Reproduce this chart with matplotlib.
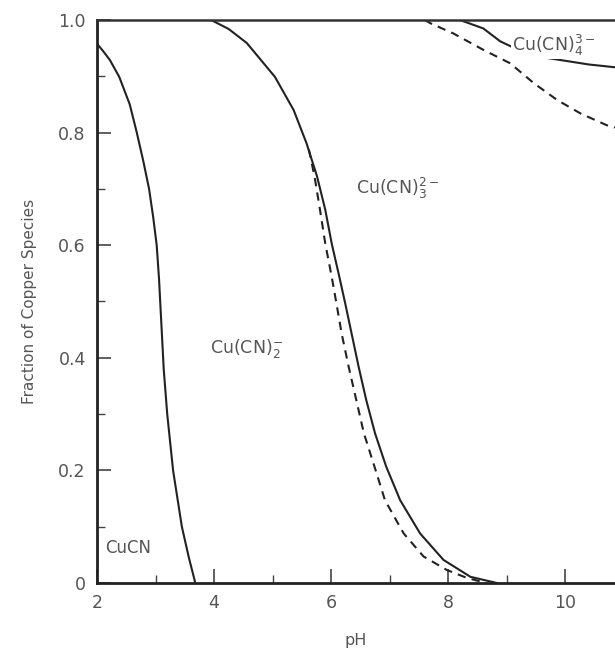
import matplotlib
matplotlib.use("Agg")
import matplotlib.pyplot as plt
from matplotlib.ticker import MultipleLocator, FixedLocator

# --- data ---
cucn_ph = [2.0, 2.11, 2.22, 2.38, 2.56, 2.68, 2.79, 2.89, 2.96, 3.02, 3.06, 3.10, 3.14, 3.20, 3.30, 3.45, 3.57, 3.68]
cucn_f = [0.958, 0.944, 0.929, 0.899, 0.85, 0.80, 0.75, 0.70, 0.65, 0.60, 0.54, 0.46, 0.38, 0.30, 0.20, 0.10, 0.045, 0.0]

cn2_ph = [3.95, 4.25, 4.56, 5.04, 5.36, 5.58, 5.76, 5.90, 6.01, 6.14, 6.24, 6.35, 6.47, 6.60, 6.75, 6.94, 7.18, 7.52, 7.92, 8.38, 8.83]
cn2_f = [1.0, 0.984, 0.959, 0.899, 0.84, 0.781, 0.722, 0.663, 0.603, 0.544, 0.497, 0.443, 0.384, 0.325, 0.266, 0.207, 0.147, 0.088, 0.041, 0.011, 0.0]

cn2d_ph = [5.62, 5.72, 5.81, 5.90, 6.01, 6.09, 6.18, 6.30, 6.43, 6.56, 6.74, 6.92, 7.24, 7.58, 7.98, 8.32, 8.65]
cn2d_f = [0.77, 0.72, 0.663, 0.603, 0.544, 0.497, 0.443, 0.384, 0.325, 0.266, 0.207, 0.147, 0.088, 0.047, 0.023, 0.009, 0.0]

cn3_ph = [8.2, 8.6, 8.89, 9.3, 9.6, 9.91, 10.4, 10.85]
cn3_f = [1.0, 0.985, 0.962, 0.942, 0.934, 0.929, 0.921, 0.916]

cn3d_ph = [7.6, 7.7, 8.09, 8.60, 9.06, 9.46, 9.86, 10.26, 10.71, 10.85]
cn3d_f = [1.0, 0.994, 0.976, 0.947, 0.923, 0.888, 0.858, 0.834, 0.813, 0.809]

x_ticks = [2, 4, 6, 8, 10]
y_ticks = [0, 0.2, 0.4, 0.6, 0.8, 1.0]
y_tick_labels = ["0", "0.2", "0.4", "0.6", "0.8", "1.0"]

species_labels = ["CuCN", r"Cu(CN)$_2^{-}$", r"Cu(CN)$_3^{2-}$", r"Cu(CN)$_4^{3-}$"]
label_pos = [(2.14, 0.062), (4.56, 0.417), (7.13, 0.70), (9.80, 0.955)]

# --- figure ---
fig = plt.figure(figsize=(6.15, 6.53), dpi=100)
ax = fig.add_axes([0.1577, 0.1072, 0.8423, 0.8622])

lc = "#222222"
tc = "#555555"
dash = (0, (4, 3))
ax.plot(cucn_ph, cucn_f, color=lc, lw=1.5)
ax.plot(cn2_ph, cn2_f, color=lc, lw=1.5)
ax.plot(cn2d_ph, cn2d_f, color=lc, lw=1.5, ls=dash)
ax.plot(cn3_ph, cn3_f, color=lc, lw=1.5)
ax.plot(cn3d_ph, cn3d_f, color=lc, lw=1.5, ls=dash)

ax.set_xlim(2, 10.85)
ax.set_ylim(0, 1.0)
ax.xaxis.set_major_locator(FixedLocator(x_ticks))
ax.xaxis.set_minor_locator(MultipleLocator(1))
ax.set_yticks(y_ticks)
ax.set_yticklabels(y_tick_labels)
ax.yaxis.set_minor_locator(MultipleLocator(0.1))

ax.tick_params(which="major", direction="in", length=10, width=1.2, colors="#444444",
               labelcolor=tc, labelsize=12.5, pad=8)
ax.tick_params(which="minor", direction="in", length=6, width=1.0, colors="#444444")
ax.tick_params(top=False, right=False, which="both")

for s in ["left", "bottom"]:
    ax.spines[s].set_linewidth(2.0)
    ax.spines[s].set_color("#222222")
ax.spines["top"].set_linewidth(1.8)
ax.spines["top"].set_color("#333333")
ax.spines["right"].set_visible(False)

ax.set_xlabel("pH", fontsize=11.5, color=tc, labelpad=15)
ax.set_ylabel("Fraction of Copper Species", fontsize=11, color=tc, labelpad=15)

for i, (lab, (px, py)) in enumerate(zip(species_labels, label_pos)):
    if i == 0:
        ax.text(px, py, lab, fontsize=12, color=tc, ha="left", va="center")
    elif i == 3:
        ax.text(px, py, lab, fontsize=12.5, color=tc, ha="center", va="center",
                bbox=dict(facecolor="white", edgecolor="none", pad=1))
    else:
        ax.text(px, py, lab, fontsize=12.5, color=tc, ha="center", va="center")

fig.savefig("out.png", dpi=100)
